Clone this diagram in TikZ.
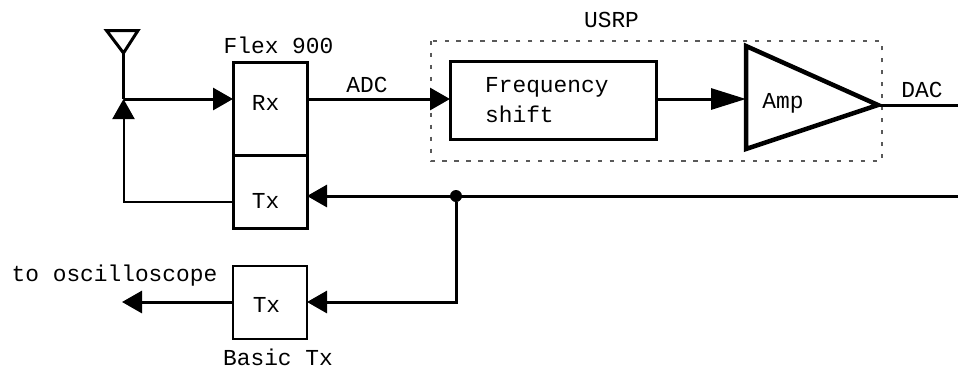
\documentclass[tikz,border=0pt]{standalone}
\usepackage{fontspec}
\setmonofont{Liberation Mono}
\usetikzlibrary{arrows.meta, calc}
\begin{document}
\begin{tikzpicture}[font=\fontsize{13}{17}\selectfont\ttfamily, line join=miter,
  >={Triangle[length=4mm, width=4.4mm]},
  wire/.style={line width=0.06cm},
  thinwire/.style={line width=0.04cm},
  longtip/.style={-{Triangle[length=7mm, width=4.2mm]}},
  boxnode/.style={draw, line width=0.06cm, inner sep=0pt, outer sep=0pt},
  basicbox/.style={draw, line width=0.04cm, inner sep=0pt, outer sep=0pt},
  note/.style={inner sep=0pt}]
\useasboundingbox (0,0) rectangle (19.16,-7.32);
% ---- boxes
\node[boxnode, minimum width=1.48cm, minimum height=1.86cm] (rx) at (5.40,-2.17) {\raisebox{-1.1pt}[0pt][0pt]{Rx\kern5pt}};
\node[boxnode, minimum width=1.48cm, minimum height=1.46cm] (tx) at (5.40,-3.83) {\raisebox{-9.7pt}[0pt][0pt]{Tx\kern5pt}};
\node[basicbox, minimum width=1.48cm, minimum height=1.46cm] (basic) at (5.40,-6.05) {\raisebox{-5.7pt}[0pt][0pt]{Tx\kern4pt}};
\node[boxnode, minimum width=4.12cm, minimum height=1.56cm, align=left] (freq) at (11.06,-2.00) {Frequency\kern7pt\\shift};
\draw[gray!70!black, line width=0.04cm, dash pattern=on 2.4pt off 4.4pt] (8.62,-0.82) rectangle (17.63,-3.22);
% ---- amplifier
\coordinate (amptop) at (14.92,-0.92);
\coordinate (ampbot) at (14.92,-2.98);
\coordinate (amptip) at (17.56,-2.10);
\draw[line width=0.09cm] (amptop) -- (amptip) -- (ampbot) -- cycle;
\node[note] (amp) at (15.66,-2.07) {Amp};
% ---- antenna
\coordinate (antl) at (2.13,-0.61);
\coordinate (antr) at (2.76,-0.61);
\coordinate (antf) at (2.47,-1.06);
\coordinate (feed) at (2.47,-1.98);
\draw[wire] (antl) -- (antr) -- (antf) -- cycle;
\draw[wire] (antf) -- (feed);
\coordinate (txout) at (4.66,-4.04);
\draw[thinwire, ->] (txout) -- (txout -| feed) -- (feed);
\draw[wire, ->] (feed) -- (feed -| rx.west);
% ---- forward path
\coordinate (adcout) at (6.14,-1.98);
\draw[wire, ->] (adcout) -- (adcout -| freq.west);
\coordinate (freqout) at (13.12,-1.98);
\draw[wire, longtip] (freqout) -- (freqout -| amptop);
\coordinate (dacend) at (19.16,-2.10);
\draw[wire] (amptip) -- (dacend);
% ---- return path
\coordinate (busend) at (19.16,-3.92);
\coordinate (busin) at (6.14,-3.92);
\node[circle, fill=black, inner sep=0pt, minimum size=0.24cm] (tap) at (9.12,-3.92) {};
\draw[wire, ->] (busend) -- (busin);
\coordinate (basicin) at (6.14,-6.04);
\draw[wire, ->] (tap) -- (tap |- basicin) -- (basicin);
\coordinate (scope) at (2.44,-6.04);
\draw[wire, ->] (basicin -| basic.west) -- (scope);
% ---- labels
\node[note] (flexlabel) at (5.57,-0.91) {Flex 900};
\node[note] (usrplabel) at (12.23,-0.40) {USRP};
\node[note] (adclabel) at (7.34,-1.70) {ADC};
\node[note] (daclabel) at (18.44,-1.80) {DAC};
\node[note] (scopelabel) at (2.29,-5.52) {to oscilloscope};
\node[note] (basiclabel) at (5.56,-7.15) {Basic Tx};
\end{tikzpicture}
\end{document}
